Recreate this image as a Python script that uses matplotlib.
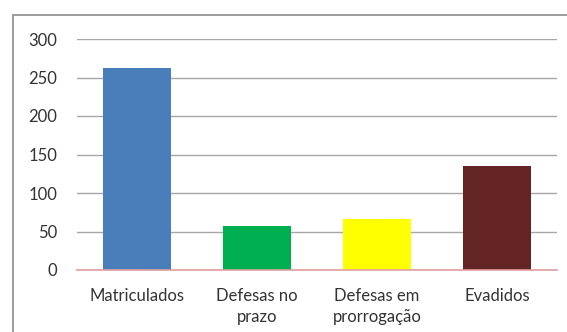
import matplotlib
matplotlib.use("Agg")
import matplotlib.pyplot as plt
from matplotlib.patches import Rectangle

categories = ["Matriculados", "Defesas no\nprazo", "Defesas em\nprorrogação", "Evadidos"]
values = [262, 57, 66, 135]
colors = ["#4a7ebb", "#00b050", "#ffff00", "#632423"]
yticks = [0, 50, 100, 150, 200, 250, 300]

plt.rcParams['font.family'] = ['Lato', 'DejaVu Sans']

W, H = 567, 332
fig = plt.figure(figsize=(W / 100, H / 100), dpi=100)
fig.patch.set_facecolor("white")

# outer chart frame
fig.patches.append(Rectangle((13 / W, -0.1), 1.2, (H - 15) / H + 0.1,
                             transform=fig.transFigure, fill=False,
                             edgecolor="#8c8c8c", linewidth=1.2))

ax = fig.add_axes([77 / W, (H - 270) / H, (557 - 77) / W, (270 - 39) / H])
x = range(len(categories))
ax.bar(x, values, width=0.56, color=colors, zorder=3)
ax.set_xlim(-0.5, len(categories) - 0.5)
ax.set_ylim(0, 300)
ax.set_yticks(yticks)
ax.set_xticks(list(x))
ax.set_xticklabels(categories, fontsize=12, color="#333333", linespacing=1.4)
ax.tick_params(axis="y", labelsize=12, colors="#333333", length=0, pad=14)
ax.tick_params(axis="x", length=0, pad=13)
ax.grid(axis="y", color="#a6a6a6", linewidth=1.0, zorder=0)
for s in ["top", "right", "left"]:
    ax.spines[s].set_visible(False)
ax.spines["bottom"].set_color("#e0a0a0")
ax.spines["bottom"].set_linewidth(1.2)
ax.spines["bottom"].set_zorder(4)

fig.savefig("out.png", dpi=100)
